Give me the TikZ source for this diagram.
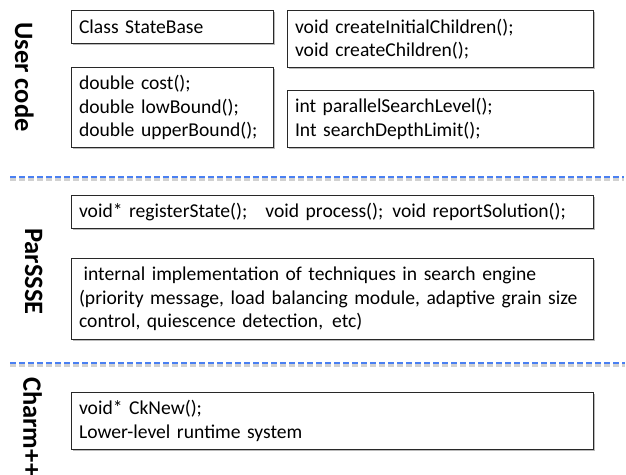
\documentclass[tikz,border=0pt]{standalone}
\usepackage{fontspec}
\setmainfont{Carlito}
\usetikzlibrary{shadows}
\definecolor{sepblue}{RGB}{74,128,242}
\definecolor{boxline}{RGB}{40,40,40}
\begin{document}
\begin{tikzpicture}[x=1pt,y=-1pt,
  codebox/.style={draw=boxline, line width=1.1pt, fill=white, anchor=north west,
    inner xsep=7.5pt, inner ysep=0pt, align=left,
    font=\fontsize{19.6}{23.5}\selectfont,
    drop shadow={shadow xshift=1.3pt, shadow yshift=-1.3pt, opacity=0.45, fill=black!60}},
  layer/.style={rotate=-90, anchor=base west, inner sep=0pt,
    font=\fontsize{26.5}{30}\selectfont\bfseries},
  sepline/.style={draw=sepblue, line width=2.2pt, dash pattern=on 6.3pt off 2.7pt},
  sepshadow/.style={draw=black, opacity=0.18, line width=3pt, dash pattern=on 6.3pt off 2.7pt}
]
\useasboundingbox (0,0) rectangle (626,474);

% layer labels
\node[layer] (lu) at (15,22) {User code};
\node[layer] (lp) at (25,228) {ParSSSE};
\node[layer] (lc) at (23.5,377) {Charm++};

% user code boxes
\node[codebox, minimum width=202pt, text width=187pt, minimum height=33pt] (cls) at (71,10) {Class StateBase};
\node[codebox, minimum width=202pt, text width=187pt, minimum height=80pt] (dbl) at (71,67)
  {double cost();\\double lowBound();\\double upperBound();};
\node[codebox, minimum width=306pt, text width=291pt, minimum height=57pt] (chl) at (287,10)
  {void createInitialChildren();\\void createChildren();};
\node[codebox, minimum width=306pt, text width=291pt, minimum height=57pt] (par) at (287,90)
  {int parallelSearchLevel();\\Int searchDepthLimit();};

% separators
\coordinate (s1a) at (10,177);
\coordinate (s1b) at (624,177);
\coordinate (s2a) at (10,363);
\coordinate (s2b) at (625,363);
\draw[sepshadow] ([yshift=-2pt]s1a) -- ([yshift=-2pt]s1b);
\draw[sepline] (s1a) -- (s1b);
\draw[sepshadow] ([yshift=-2pt]s2a) -- ([yshift=-2pt]s2b);
\draw[sepline] (s2a) -- (s2b);

% ParSSSE boxes
\node[codebox, minimum width=522pt, text width=507pt, minimum height=33pt] (api) at (71,195)
  {void* registerState();\hspace{18pt}void process();\hspace{9pt}void reportSolution();};
\node[codebox, minimum width=522pt, text width=507pt, minimum height=81pt] (impl) at (71,258)
  {\hspace{4.5pt}internal implementation of techniques in search engine\\(priority message, load balancing module, adaptive grain size\\control, quiescence detection,\hspace{9pt}etc)};

% Charm++ box
\node[codebox, minimum width=522pt, text width=507pt, minimum height=57pt] (ck) at (71,392)
  {void* CkNew();\\Lower-level runtime system};
\end{tikzpicture}
\end{document}
